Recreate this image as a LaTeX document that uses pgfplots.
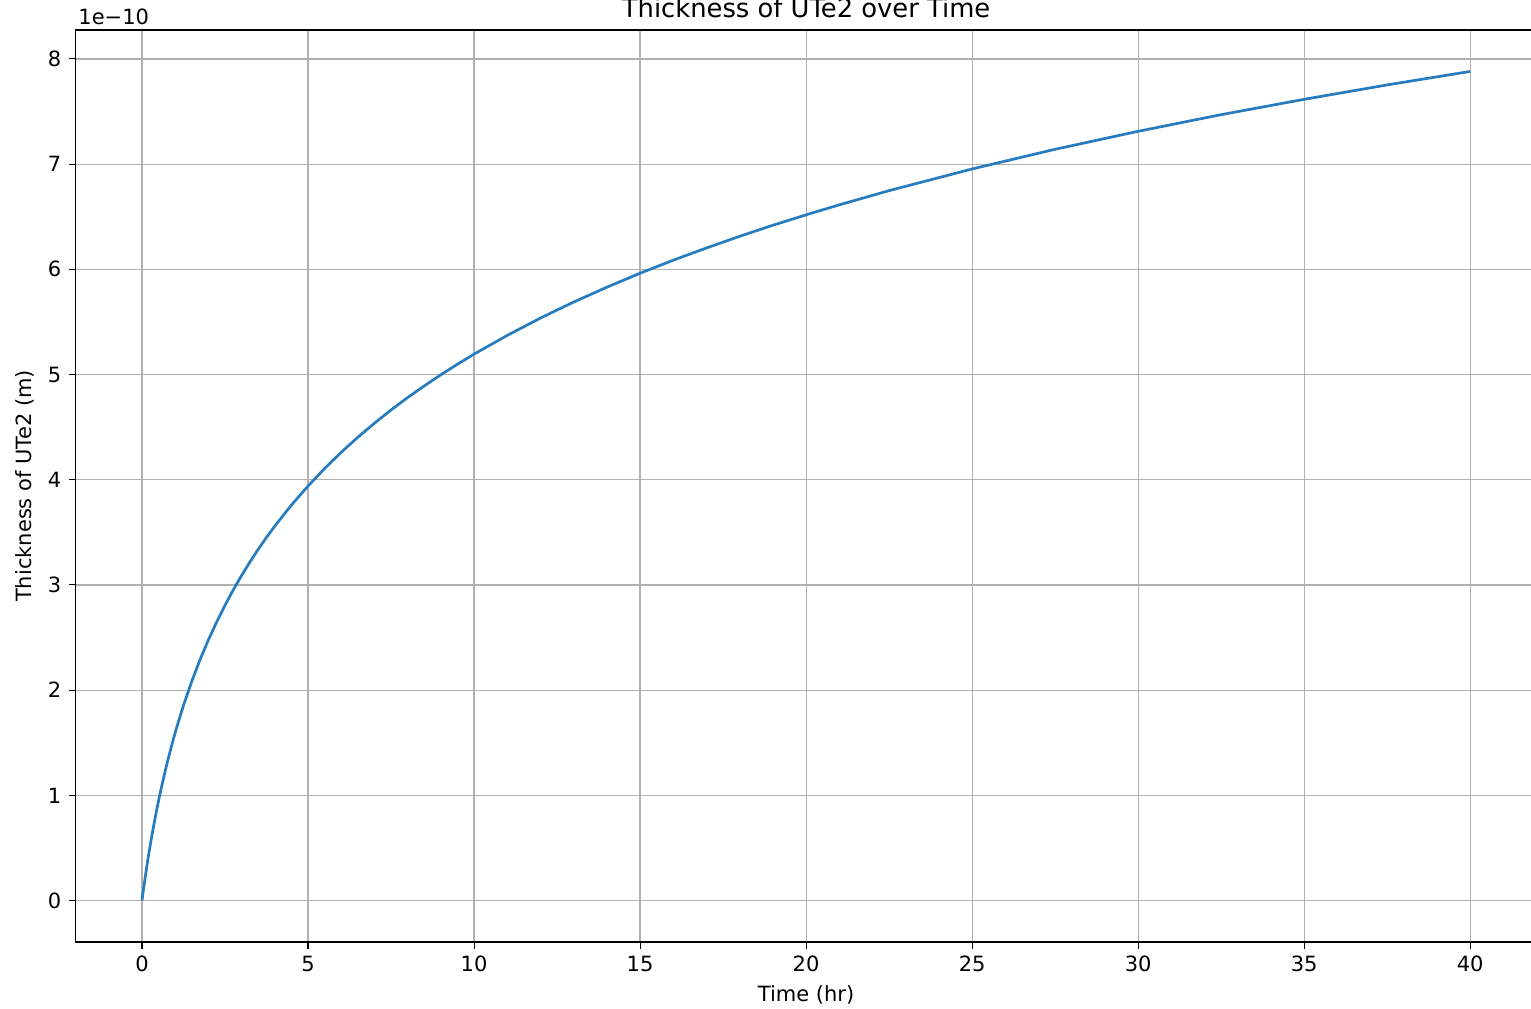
\documentclass[border=0pt]{standalone}
\usepackage{fontspec}
\setmainfont{DejaVu Sans}
\usepackage{pgfplots}
\pgfplotsset{compat=1.18}
\definecolor{mplblue}{RGB}{38,124,190}
\definecolor{gridgray}{HTML}{B0B0B0}
\begin{document}
\fontsize{10.5}{12.6}\selectfont
\begin{tikzpicture}
\begin{axis}[
  name=ax,
  scale only axis,
  width=730.5pt, height=456pt,
  xmin=-2, xmax=42,
  ymin=-0.394, ymax=8.275,
  xtick={0,5,...,40},
  ytick={0,1,...,8},
  xtick pos=lower, ytick pos=left,
  tick align=outside,
  major tick length=3.5pt,
  tick style={black, line width=0.55pt},
  axis line style={black, line width=0.55pt},
  grid=major,
  major grid style={gridgray, line width=0.6pt},
  /pgf/number format/assume math mode=true,
  ticklabel style={font=\fontsize{10.5}{12.6}\selectfont},
  title={Thickness of UTe2 over Time},
  title style={at={(axis description cs:0.5,1)}, anchor=base, yshift=0.2pt, font=\fontsize{12.9}{15}\selectfont},
  xlabel={Time (hr)},
  xlabel style={at={(axis description cs:0.5,0)}, anchor=base, yshift=-29.5pt, font=\fontsize{10.5}{12.6}\selectfont},
  ylabel={Thickness of UTe2 (m)},
  ylabel style={at={(axis description cs:0,0.5)}, anchor=base, yshift=21.8pt, font=\fontsize{10.5}{12.6}\selectfont},
]
\addplot[mplblue, line width=1.35pt, line join=round] coordinates {
(0,0) (0.025,0.060) (0.05,0.118) (0.1,0.229) (0.15,0.335) (0.2,0.436) (0.3,0.623) (0.4,0.794)
(0.5,0.952) (0.6,1.098) (0.75,1.300) (0.9,1.483) (1,1.597) (1.1,1.704) (1.25,1.856) (1.5,2.085) (1.75,2.292)
(2,2.478) (2.25,2.649) (2.5,2.807) (2.75,2.954) (3,3.090) (3.25,3.218) (3.5,3.339) (3.75,3.452) (4,3.560) (4.5,3.759)
(5,3.940) (5.5,4.107) (6,4.261) (6.5,4.404) (7,4.537) (7.5,4.663) (8,4.781) (8.5,4.892) (9,4.998) (9.5,5.098) (10,5.194)
(11,5.372) (12,5.537) (13,5.689) (14,5.830) (15,5.963) (16,6.087) (17,6.203) (18,6.314) (19,6.419)
(20,6.518) (21,6.613) (22.5,6.748) (25,6.954) (27.5,7.141) (30,7.312)
(32.5,7.470) (35,7.616) (37.5,7.753) (40,7.881)
};
\end{axis}
\node[anchor=base west, inner sep=0pt, font=\fontsize{10.5}{12.6}\selectfont]
  at ([xshift=1.2pt, yshift=2.5pt]ax.north west) {1e−10};
\pgfresetboundingbox
\path[use as bounding box] ([shift={(-37.8pt,-33pt)}]ax.south west) rectangle ([shift={(727.7pt,471pt)}]ax.south west);
\end{tikzpicture}
\end{document}
